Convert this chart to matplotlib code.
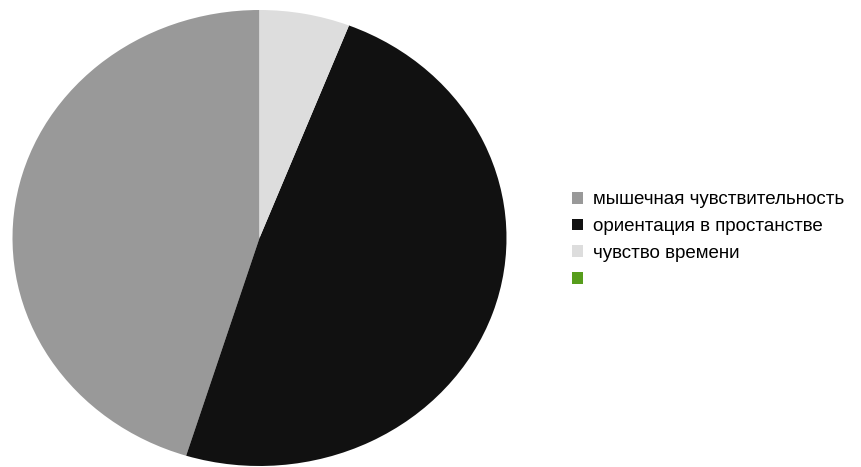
import matplotlib.pyplot as plt
from matplotlib.patches import Patch

# shares of each perception type, legend order
labels = ['мышечная чувствительность', 'ориентация в простанстве', 'чувство времени', '']
values = [45.2, 48.9, 5.9, 0]
colors = ['#999999', '#111111', '#dddddd', '#579d1c']

plt.rcParams['font.family'] = ['Liberation Sans', 'DejaVu Sans']

W, H = 861, 467
fig = plt.figure(figsize=(W / 100, H / 100), dpi=100)

# pie sits in an axes slightly wider than tall, so it comes out as an ellipse
cx, cy, rx, ry = 259.5, 238, 247, 228
ax = fig.add_axes([(cx - rx) / W, (H - cy - ry) / H, 2 * rx / W, 2 * ry / H])
ax.pie(values, colors=colors, startangle=90, counterclock=True,
       wedgeprops=dict(linewidth=0))
ax.set_xlim(-1, 1)
ax.set_ylim(-1, 1)
ax.set_aspect('auto')
ax.axis('off')

handles = [Patch(facecolor=c, edgecolor='none') for c in colors]
fig.legend(handles, labels, loc='center left',
           bbox_to_anchor=(572 / W, (H - 240) / H),
           frameon=False, fontsize=13.5, handlelength=0.6, handleheight=0.6,
           handletextpad=0.5, labelspacing=0.52, borderpad=0, borderaxespad=0)

fig.savefig('out.png', dpi=100)
